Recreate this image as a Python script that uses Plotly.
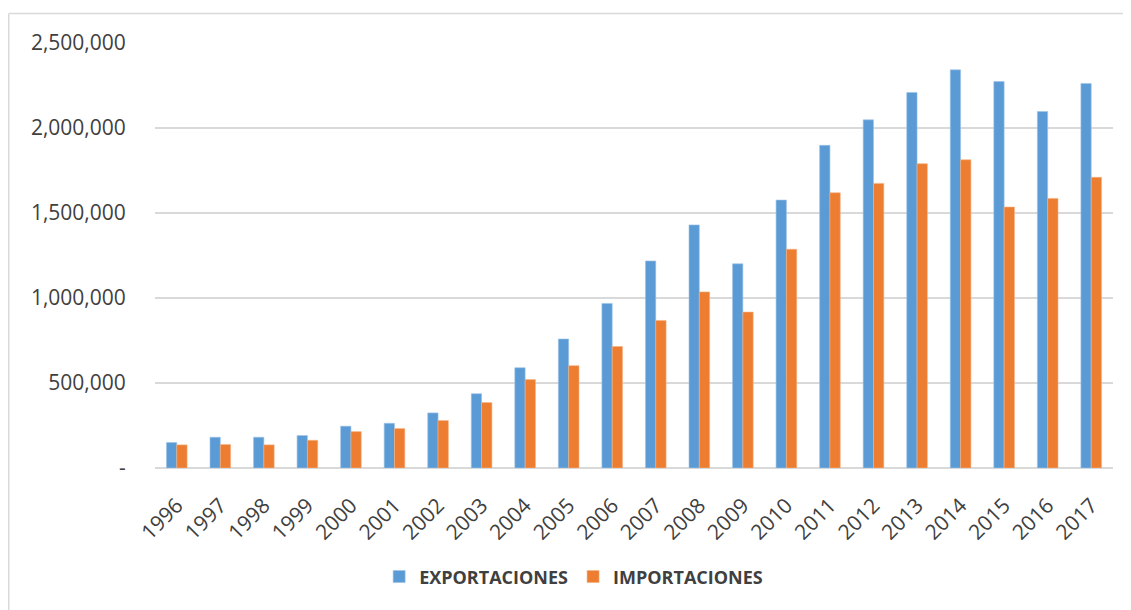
import plotly.graph_objects as go

years = [str(y) for y in range(1996, 2018)]
exportaciones = [150000, 181000, 181000, 191000, 246000, 263000, 324000, 437000,
                 590000, 759000, 968000, 1218000, 1430000, 1201000, 1576000,
                 1898000, 2048000, 2209000, 2342000, 2273000, 2097000, 2262000]
importaciones = [136000, 138000, 136000, 163000, 214000, 232000, 279000, 385000,
                 520000, 602000, 715000, 868000, 1036000, 917000, 1287000,
                 1619000, 1674000, 1790000, 1813000, 1535000, 1586000, 1710000]
y_tickvals = [0, 500000, 1000000, 1500000, 2000000, 2500000]
y_ticktext = ["-", "500,000", "1,000,000", "1,500,000", "2,000,000", "2,500,000"]

BLUE = "#5B9BD5"
ORANGE = "#ED7D31"
GRID = "#D9D9D9"
FONT = "Open Sans"
TXT = "#404040"

fig = go.Figure()
fig.add_trace(go.Bar(name="EXPORTACIONES", x=years, y=exportaciones,
                     marker=dict(color=BLUE, line=dict(color="#9DC3E6", width=0.6))))
fig.add_trace(go.Bar(name="IMPORTACIONES", x=years, y=importaciones,
                     marker=dict(color=ORANGE, line=dict(color="#F4B183", width=0.6))))

fig.update_layout(
    width=1131, height=610,
    margin=dict(l=147, r=26, t=35, b=150),
    paper_bgcolor="white", plot_bgcolor="white",
    barmode="group", bargap=0.526, bargroupgap=0,
    font=dict(family=FONT, color=TXT),
    showlegend=True,
    legend=dict(orientation="h", x=0.437, y=-0.256, xanchor="center", yanchor="middle",
                font=dict(family=FONT, size=18, color=TXT, weight="bold"),
                itemwidth=30, traceorder="normal"),
    shapes=[
        dict(type="line", xref="paper", yref="paper", x0=-0.1527, x1=1.04, y0=1.0694, y1=1.0694,
             line=dict(color=GRID, width=1.5)),
        dict(type="line", xref="paper", yref="paper", x0=-0.1527, x1=-0.1527, y0=1.0694, y1=-0.36,
             line=dict(color=GRID, width=1.5)),
    ],
)
fig.update_yaxes(range=[0, 2500000], tickvals=y_tickvals, ticktext=y_ticktext,
                 showgrid=True, gridcolor=GRID, gridwidth=1.5,
                 zeroline=True, zerolinecolor=GRID, zerolinewidth=1.5,
                 showline=False, ticks="outside", ticklen=24, tickcolor="rgba(0,0,0,0)",
                 tickfont=dict(family=FONT, size=21, color=TXT))
fig.update_xaxes(type="category", tickangle=-45, showline=False, showgrid=False,
                 ticks="outside", ticklen=16, tickcolor="rgba(0,0,0,0)",
                 tickfont=dict(family=FONT, size=21, color=TXT))

fig.write_html("out.html")
